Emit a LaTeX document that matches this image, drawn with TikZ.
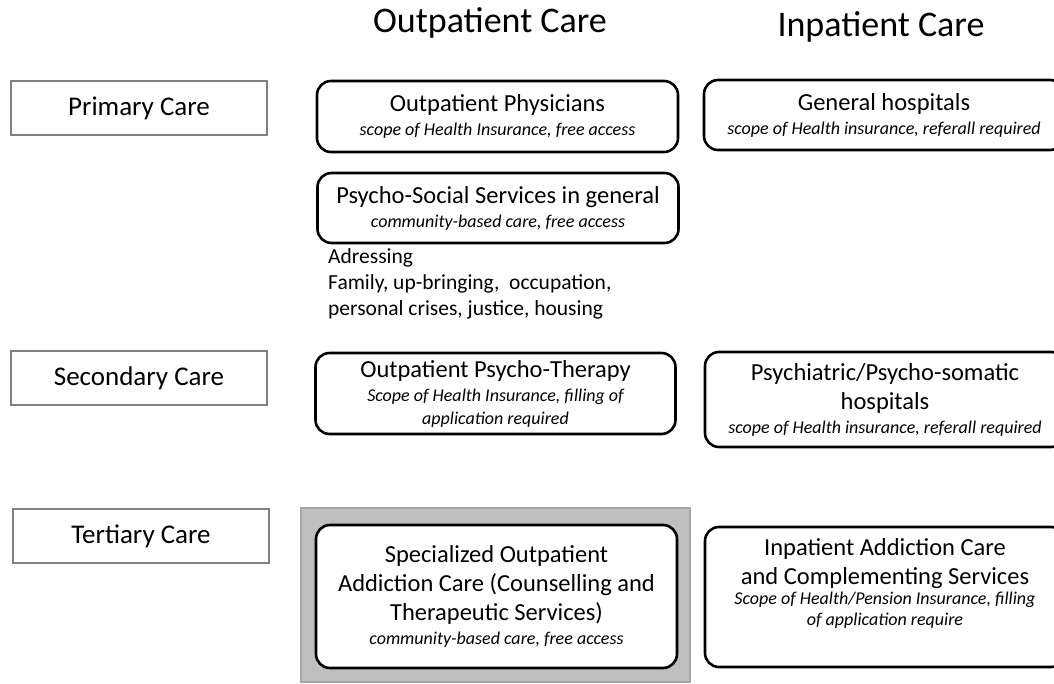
\documentclass[tikz,border=0pt]{standalone}
\usepackage{fontspec}
\setmainfont{Carlito}
\usepackage{xcolor}
\usepackage{tikz}
\definecolor{levelgray}{RGB}{128,128,128}
\definecolor{bandgray}{RGB}{191,191,191}
\definecolor{banddraw}{RGB}{166,166,166}
\newcommand{\mainline}{\fontsize{24.5}{29}\selectfont\upshape}
\newcommand{\noteline}{\fontsize{18}{23}\selectfont\itshape}

\begin{document}
\begin{tikzpicture}[x=1pt, y=-1pt,
  colhead/.style={anchor=base, inner sep=0pt, font=\fontsize{36}{43}\selectfont},
  level/.style={draw=levelgray, line width=2pt, rectangle, minimum width=256pt, minimum height=54pt, font=\fontsize{27}{32}\selectfont},
  care/.style={draw, line width=2.6pt, rectangle, rounded corners=14pt, fill=white, align=center, inner sep=0pt, font=\mainline},
  band/.style={draw=banddraw, fill=bandgray, line width=2pt, rectangle}]
\clip (0,0) rectangle (1054,684);
\fill[white] (0,0) rectangle (1054,684);
\node[colhead] (outhead) at (490,33) {Outpatient Care};
\node[colhead] (inhead) at (881,37) {Inpatient Care};
\node[level] (primary) at (139,108) {Primary Care};
\node[level] (secondary) at (139,378) {Secondary Care};
\node[level] (tertiary) at (141,536) {Tertiary Care};
\node[band, minimum width=389pt, minimum height=174pt] (addictband) at (495.5,595) {};
\node[care, minimum width=361pt, minimum height=71pt] (outphys) at (497.5,116.5) {Outpatient Physicians\\[-5pt]\noteline scope of Health Insurance, free access};
\node[care, minimum width=361pt, minimum height=70pt] (psysoc) at (498,208) {Psycho-Social Services in general\\[-5pt]\noteline community-based care, free access};
\node[anchor=north west, inner sep=0pt, align=left, font=\fontsize{21.5}{26}\selectfont] (adressing) at (328,248) {Adressing\\Family, up-bringing,\ \ occupation,\\personal crises, justice, housing};
\node[care, minimum width=360pt, minimum height=81pt] (psyther) at (495.5,393.5) {Outpatient Psycho-Therapy\\[-5pt]\noteline Scope of Health Insurance, filling of\\[-6pt]\noteline application required};
\node[care, minimum width=361pt, minimum height=143pt] (specout) at (496.5,596.5) {Specialized Outpatient\\Addiction Care (Counselling and\\Therapeutic Services)\\[-5pt]\noteline community-based care, free access};
\node[care, minimum width=360pt, minimum height=70pt] (genhosp) at (884,115) {General hospitals\\[-5pt]\noteline scope of Health insurance, referall required};
\node[care, minimum width=360pt, minimum height=95pt] (psyhosp) at (885,399.5) {Psychiatric/Psycho-somatic\\hospitals\\[-5pt]\noteline scope of Health insurance, referall required};
\node[care, minimum width=360pt, minimum height=140pt] (inaddict) at (885,597) {};
\node[align=center, inner sep=0pt, font=\mainline] (inaddicttext) at ([yshift=14pt]inaddict.center) {Inpatient Addiction Care\\and Complementing Services\\[-9pt]\noteline Scope of Health/Pension Insurance, filling\\[-8pt]\noteline of application require};
\end{tikzpicture}
\end{document}
